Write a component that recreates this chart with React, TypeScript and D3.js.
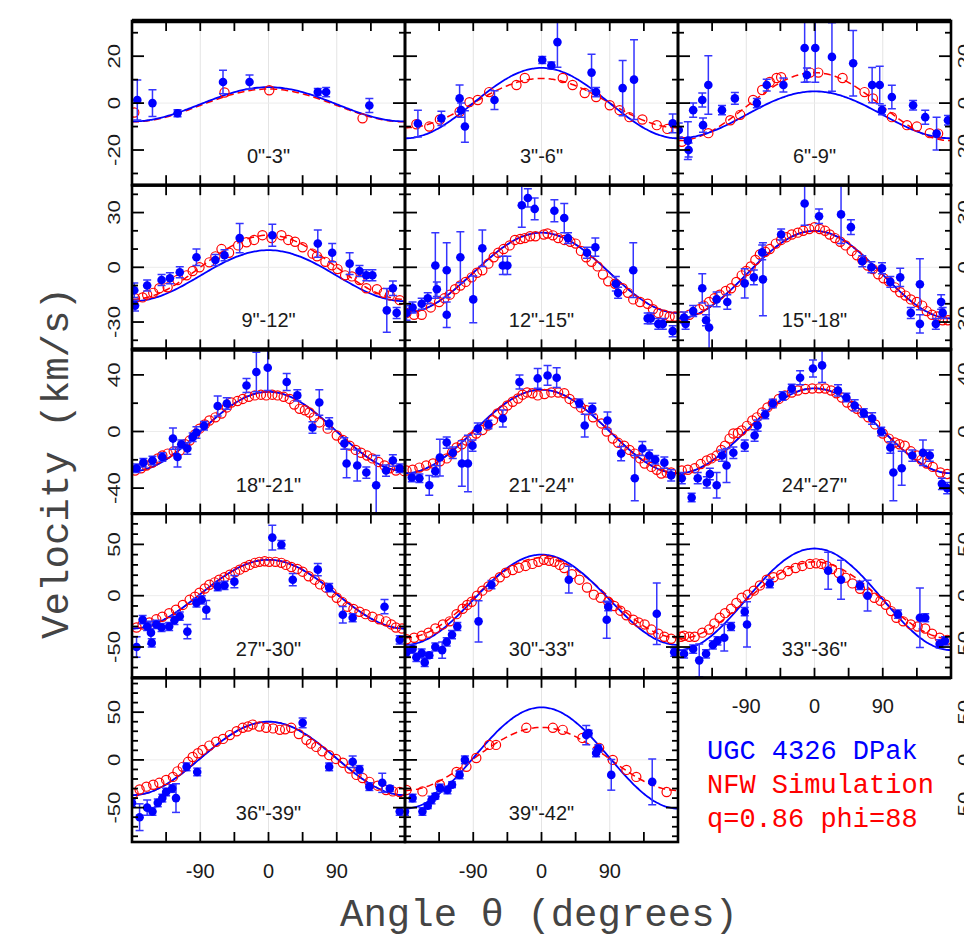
import React from "react";
import * as d3 from "d3";

// ---------- data ----------
const panelLabels = [
  '0"-3"', '3"-6"', '6"-9"', '9"-12"', '12"-15"', '15"-18"', '18"-21"',
  '21"-24"', '24"-27"', '27"-30"', '30"-33"', '33"-36"', '36"-39"', '39"-42"',
];
const rowYMax = [35, 45, 58, 80, 86];
const rowMinorStep = [10, 10, 20, 10, 10];
const rowMajorStep = [20, 30, 40, 50, 50];
const rowTickLabels = [[-20, 0, 20], [-30, 0, 30], [-40, 0, 40], [-50, 0, 50], [-50, 0, 50]];
const xTicks = [-135, -90, -45, 0, 45, 90, 135];
const xTickLabels = [-90, 0, 90];
const gridAngles = [-90, 0, 90];

// model curve parameters (amplitude, systemic offset) per panel, km/s
const blueAmp = [7.3, 15, 10, 14, 22, 24, 28, 29.5, 30, 33.5, 44, 49.5, 38.5, 53];
const blueOff = [-0.5, 0, -5, -4.6, -3, -4, 0, 0, 0.5, 1.5, -4, -3.5, 1.5, 2];
const redAmp = [7, 10.5, 14.5, 17.6, 22, 24, 28, 29.5, 30, 33.5, 39, 37.5, 38.5, 33];
const redOff = [-1, 0, -1.5, 0, -3, -4, 0, 0, 0.5, 1.5, -2, -4.5, 1.5, 1];

// observed points: [angle, velocity, error]
const blue01 = [[-173, 1.3, 8.5], [-153, 0, 5.7], [-120, -4.3, 1.5], [-60, 9, 5], [-25, 9, 3], [65, 4.7, 1.5], [76, 4.7, 2], [133, -1, 3]];
const blue02 = [[-163, -8.7, 5.7], [-132, -6.5, 3], [-108, 2, 5.7], [-106, -3, 3], [-101, -10, 6.7], [-62, 1.3, 4], [1, 18.4, 1.5], [13, 16, 1.5], [21, 26, 10.7], [66, 13, 7.8], [72, 4.7, 2], [107, 6.4, 11.8], [122, 10, 17], [173, -8.6, 4]];
const blue03 = [[-179, -11.5, 3], [-167, -16, 8], [-166, -20, 3], [-160, -3, 3], [-148, 1.3, 3], [-147, -9.4, 3], [-140, 7.7, 12.5], [-122, -3, 2], [-105, 2, 2.5], [-76, 0, 2], [-63, 7.7, 2.5], [-41, 7.7, 3], [-13, 23.5, 14.6], [1, 23.5, 14.6], [23, 19.7, 14.6], [51, 17, 14], [-10, 12, 3], [76, 7.7, 7.5], [86, 7.7, 8], [89, -3, 2], [102, 2.6, 5], [130, -0.9, 2], [146, -6, 3], [161, -13, 7], [176, -7.3, 2]];
const blue04 = [[-177, -12.6, 4], [-176, -21, 3], [-160, -10, 3], [-141, -7, 3], [-130, -6, 3], [-117, -2.7, 3], [-95, 5.5, 4.5], [-70, 4, 3], [-58, 6.6, 3], [-38, 16, 8], [5, 17.6, 6], [65, 13, 7.5], [84, 8, 5], [107, 2, 6], [120, -2, 3], [129, -4.4, 3], [137, -4.4, 3], [156, -23.6, 12], [164, -11.5, 4], [169, -25, 3]];
const blue05 = [[-178, -25, 4], [-170, -22, 3], [-158, -20, 3], [-150, -17, 3], [-140, 1, 18], [-138, -12, 4], [-125, -1.6, 15], [-125, -26, 7], [-107, 5.5, 14], [-90, -17.6, 12.8], [-78, 10.4, 10], [-51, 1, 5], [-45, 1, 5], [-26, 34, 12], [-18, 38, 5], [-9, 32, 6], [17, 31, 6], [30, 27, 8], [35, 16, 3], [60, 8, 3], [71, 11, 5], [98, -9, 4], [101, -14, 3], [121, -1.6, 15], [140, -28, 3], [144, -28, 3], [154, -31, 3], [160, -31, 3], [173, -35, 3]];
const blue06 = [[-172, -27.5, 3], [-170, -31, 3], [-160, -24, 3], [-148, -11.5, 8], [-143, -29, 3], [-139, -33, 12], [-129, -17.6, 4], [-115, -19, 4], [-92, -8.8, 8], [-80, -5.5, 4], [-68, -6.6, 20], [-69, 8.2, 4], [-44, 18, 3], [-13, 35, 12], [6, 28, 4], [35, 29, 16], [48, 22, 4], [63, 3.3, 3], [75, 0, 3], [89, -0.5, 3], [100, -8, 3], [113, -5.5, 5], [139, -9.3, 14], [127, -25, 3], [139, -31, 5], [160, -31, 3], [167, -19, 4], [169, -25, 3]];
const blue07 = [[-174, -26, 3], [-165, -22, 3], [-153, -20.5, 3], [-140, -18, 3], [-126, -5, 7.5], [-120, -18, 7], [-115, -9, 3], [-107, -12, 4], [-100, -4, 3], [-95, -0.7, 4], [-85, 4, 3], [-67, 18, 7], [-55, 19.8, 4], [-29, 32.5, 5], [-16, 42, 14], [-1, 45, 16], [24, 35, 6], [38, 25.5, 4], [67, 20.5, 9], [58, 2.8, 4], [80, 5.7, 4], [100, -8.5, 4], [103, -22.6, 10], [117, -24, 11], [129, -29, 4], [142, -38, 21], [155, -27.6, 4], [164, -20.5, 4], [173, -26, 3]];
const blue08 = [[-171, -32.5, 3], [-161, -33, 3], [-148, -38, 7], [-140, -28, 4], [-134, -18.4, 13], [-125, -7.8, 4], [-117, -15, 4], [-105, -22.6, 16], [-97, -22.6, 20], [-91, -10, 4], [-84, 2, 4], [-70, 5, 3], [-51, 9.2, 6], [-29, 35, 5], [-5, 37.5, 7], [8, 39.6, 7], [20, 38, 7], [50, 20, 3], [57, 4.2, 8], [67, 16, 4], [87, 7.8, 6], [105, -15.6, 5], [123, -33, 16], [133, -12, 5], [142, -17, 4], [150, -20, 3], [162, -22, 4], [171, -31, 4]];
const blue09 = [[-175, -33, 4], [-162, -46.7, 3], [-154, -33, 4], [-142, -36, 4], [-138, -30, 4], [-129, -38, 9], [-122, -17, 4], [-116, -24, 12], [-107, -15, 4], [-92, -10, 4], [-79, -2.8, 4], [-75, 4.2, 4], [-65, 12, 3], [-55, 19.8, 3], [-42, 25, 3], [-30, 30.4, 3], [-19, 38, 5], [-2, 44.5, 6], [10, 46.7, 12], [31, 29, 4], [42, 24, 3], [53, 18.4, 4], [65, 13, 3], [76, 9.2, 4], [88, 0, 3], [100, -11.3, 4], [104, -29, 20], [115, -26, 12], [129, -17, 4], [143, -15, 9], [152, -17, 4], [168, -37, 4], [175, -40, 4]];
const blue10 = [[-174, -50, 10], [-166, -23.4, 4], [-160, -30, 4], [-155, -36, 11], [-154, -46, 4], [-148, -28, 4], [-141, -31, 4], [-131, -30, 4], [-124, -24, 4], [-117, -20, 4], [-107, -35, 7], [-95, -7, 4], [-88, -4, 4], [-82, -13.6, 9], [-67, 8.8, 4], [-58, 10, 4], [-45, 13.7, 6], [5, 56.6, 12], [17, 49.7, 4], [32, 15.6, 6], [65, 25.4, 6], [80, 7.8, 4], [98, -18.5, 8], [111, -21.5, 4], [153, -10.7, 7], [173, -43, 4]];
const blue11 = [[-178, -55, 4], [-170, -52, 4], [-165, -60, 4], [-158, -56, 4], [-154, -65, 4], [-148, -58, 3], [-140, -50, 4], [-131, -53, 8], [-125, -45, 4], [-118, -38, 4], [-111, -30, 4], [-83, -25, 20], [-66, 10.7, 4], [36, 15.6, 13], [86, -23.4, 18], [88, -10.7, 4], [152, -17.6, 30], [175, -55, 4]];
const blue12 = [[-172, -56.6, 4], [-160, -52, 4], [-152, -63, 16], [-143, -56.6, 4], [-134, -48, 4], [-128, -44, 4], [-119, -41, 13], [-110, -30, 4], [-92, -15.6, 4], [-89, -28, 22], [-59, 11.7, 4], [18, 24.4, 18], [35, 15.6, 19], [60, 10, 4], [70, 0, 15], [110, -18, 4], [139, -21.5, 29], [146, -21.5, 4], [165, -47, 4], [172, -44, 4]];
const blue13 = [[-180, -45, 4], [-170, -60, 14], [-160, -50, 8], [-153, -54, 4], [-146, -45, 4], [-140, -40, 4], [-135, -33.6, 4], [-127, -30, 4], [-122, -40, 15], [-108, -7.3, 4], [-94, -12.6, 4], [45, 38.8, 5], [80, -7.3, 4], [111, -2, 6], [120, -10, 4], [133, -28, 4], [150, -24, 10], [160, -30, 3], [173, -54, 4]];
const blue14 = [[-180, -54, 4], [-170, -40, 4], [-157, -54, 4], [-150, -48, 3], [-145, -42, 4], [-140, -38, 3], [-134, -29.4, 4], [-124, -31.5, 4], [-118, -26, 3], [-108, -15.7, 4], [-101, 0, 4], [59, 26, 10], [62, 28, 3], [72, 7.3, 4], [75, 12, 4], [92, -15.7, 16], [146, -23, 24]];

// simulation points: [angle, velocity]
const red01 = [[-177, -4], [-58, 4.5], [1, 5.5], [124, -6.5]];
const red02 = [[-165, -9], [-148, -10], [-134, -7], [-108, -3.7], [-95, 0.4], [-84, 1.3], [-69, 4.7], [-33, 7.7], [-22, 10.7], [28, 10.7], [41, 7.7], [57, 4.3], [72, 2.6], [90, -0.9], [103, -3], [116, -6], [133, -7], [152, -9.4], [166, -11]];
const red03 = [[-175, -16.5], [-140, -12.8], [-111, -7.3], [-98, -5], [-81, 1.3], [-69, 5.6], [-59, 9], [-50, 10.7], [-44, 11], [-6, 13], [5, 13], [37, 10.7], [66, 4.7], [77, 2], [102, -6], [122, -9.4], [135, -10], [152, -12.8], [163, -13]];
const red04 = [[-176, -17], [-166, -16.5], [-160, -15], [-152, -14], [-144, -11.5], [-133, -11], [-120, -7], [-108, -4.4], [-100, -2], [-91, 0], [-78, 2.7], [-70, 6], [-62, 10], [-52, 8], [-40, 12], [-29, 13.7], [-19, 15], [-8, 17.6], [4, 16], [17, 17.6], [26, 15], [35, 14], [45, 11], [58, 7.5], [64, 6], [75, 3], [84, 1.1], [91, -1], [101, -4.4], [110, -5], [120, -7], [129, -11.5], [143, -12], [152, -14], [160, -15.4], [173, -18]];
const red05 = [[-178, -25], [-168, -26], [-158, -26], [-146, -22], [-135, -19], [-128, -17], [-121, -15], [-114, -12], [-107, -10], [-100, -8], [-92, -5.5], [-85, -3], [-78, -1.6], [-70, 2], [-63, 5.5], [-57, 8], [-50, 10], [-42, 12], [-35, 15], [-28, 15.5], [-22, 16], [-15, 17], [-8, 17], [3, 18], [8, 18.5], [15, 17.5], [22, 16], [30, 15], [38, 14], [45, 13], [52, 9], [59, 5.5], [66, 3], [74, 0.5], [81, -4], [88, -7.7], [97, -9], [107, -11.5], [114, -14], [121, -17.6], [130, -19], [140, -20], [147, -23], [154, -25], [162, -26], [169, -27], [176, -27]];
const red06 = [[-176, -27], [-165, -26], [-152, -23], [-146, -21], [-139, -19], [-132, -17], [-125, -15], [-117, -13], [-110, -11.5], [-103, -8], [-96, -4.4], [-90, -2], [-84, 0.5], [-78, 4], [-72, 7], [-65, 8.5], [-59, 10], [-51, 13], [-44, 15], [-37, 16.5], [-30, 18], [-22, 19], [-15, 20], [-7, 21], [0, 22], [7, 21], [14, 20], [20, 18], [27, 16], [34, 14], [41, 12], [49, 9], [56, 6.6], [63, 4], [70, 1], [77, -1], [84, -3.8], [91, -6], [98, -7.7], [106, -11], [113, -13.7], [120, -15.5], [127, -17.6], [135, -19], [142, -21], [148, -24], [155, -26], [162, -27], [169, -29], [176, -29]];
const red07 = [[-176, -27.6], [-168, -26], [-161, -24], [-153, -22], [-146, -19], [-140, -17], [-133, -15.6], [-125, -14], [-117, -13.4], [-110, -9], [-104, -6.4], [-97, -2], [-91, 2], [-84, 5], [-78, 7.8], [-70, 10], [-62, 12.7], [-55, 17], [-49, 20.5], [-41, 21.5], [-34, 23], [-26, 24.5], [-18, 25.5], [-10, 26], [-3, 25.5], [5, 26], [12, 25.5], [20, 24.5], [28, 23], [34, 19], [41, 16], [48, 15], [54, 13.4], [60, 10], [67, 6.4], [78, 2], [90, -2.8], [98, -6], [107, -10], [115, -13], [122, -15], [130, -17], [137, -19], [145, -21.5], [153, -24], [160, -26], [168, -27.6], [179, -28]];
const red08 = [[-178, -27.6], [-170, -27], [-161, -25.5], [-152, -24], [-143, -22.6], [-134, -21], [-125, -19], [-118, -15], [-112, -11.3], [-105, -9], [-99, -6.4], [-92, -4], [-86, -1.4], [-78, 1], [-71, 4.2], [-64, 8], [-58, 12.7], [-51, 15], [-45, 18.4], [-38, 21], [-31, 23.3], [-25, 26], [-19, 27.6], [-12, 27], [-5, 25.5], [4, 26.5], [13, 27.6], [22, 27.5], [30, 27], [37, 23], [44, 20], [52, 17], [59, 15], [68, 10], [79, 5.7], [86, 0], [94, -5], [101, -8], [109, -10], [116, -13], [123, -15.6], [130, -19], [136, -22.6], [145, -25], [152, -27], [158, -29.7], [165, -29], [171, -29]];
const red09 = [[-175, -27.6], [-167, -27], [-158, -26], [-150, -23], [-142, -20.5], [-136, -19], [-129, -17], [-123, -13], [-118, -10], [-112, -5], [-107, -1.4], [-101, -1], [-96, 0.7], [-89, 4], [-82, 7.8], [-76, 10], [-69, 13.4], [-62, 17], [-55, 19.8], [-47, 23], [-39, 25.5], [-30, 27.5], [-22, 29], [-12, 30], [-3, 30.4], [6, 30.5], [14, 30.4], [22, 29], [29, 27], [36, 24], [43, 20.5], [50, 18], [56, 16], [63, 13], [71, 10], [80, 5], [90, -1.4], [98, -5], [106, -7.8], [112, -9], [119, -10], [127, -14], [135, -17], [141, -20], [148, -22.6], [156, -25], [166, -29], [175, -30]];
const red10 = [[-174, -31], [-166, -28], [-157, -26], [-148, -23], [-140, -20.5], [-131, -17], [-122, -13.7], [-113, -9], [-104, -4], [-97, -1], [-91, 2.9], [-84, 7], [-78, 10.7], [-71, 13], [-65, 15.6], [-58, 18], [-51, 20.5], [-44, 23], [-38, 25.4], [-31, 28], [-25, 30], [-18, 32], [-12, 33], [-5, 33.5], [1, 33], [9, 33], [17, 32], [23, 30], [30, 28], [38, 26], [45, 23.4], [53, 19], [61, 15.6], [68, 11], [76, 7.8], [83, 3], [90, -2], [97, -6], [104, -10.7], [112, -13], [120, -15.6], [128, -18], [137, -20.5], [146, -23], [155, -25], [162, -28], [168, -31], [176, -32]];
const red11 = [[-178, -42.4], [-168, -41], [-158, -39], [-149, -36], [-140, -32], [-130, -28], [-121, -25], [-112, -18], [-104, -12.7], [-98, -9], [-92, -5.9], [-85, 0], [-78, 4.9], [-70, 9], [-63, 13.7], [-55, 18], [-47, 22.4], [-38, 25], [-30, 27.3], [-21, 29], [-12, 31], [-4, 33], [3, 35], [10, 34], [17, 33], [24, 30], [30, 27], [40, 21], [50, 15.6], [60, 8], [69, 1], [78, -2], [88, -5.9], [96, -10], [104, -14.6], [112, -19], [121, -23.4], [128, -26], [136, -28], [145, -33], [154, -37], [162, -40], [171, -42]];
const red12 = [[-176, -40], [-172, -39], [-165, -40], [-158, -40], [-148, -36], [-139, -33], [-132, -27], [-125, -21.5], [-118, -17], [-110, -12.7], [-103, -7], [-96, -2], [-88, 1], [-80, 4.9], [-72, 10], [-63, 15.6], [-54, 18], [-44, 20.5], [-35, 24], [-25, 27], [-16, 29], [-6, 31], [2, 31.5], [9, 31], [16, 29], [23, 26], [32, 22], [41, 17.6], [50, 12], [60, 6.8], [70, 2], [79, -2], [87, -5], [94, -8.8], [101, -15], [108, -21.5], [117, -25], [127, -28], [136, -30], [146, -32], [155, -37], [165, -41], [175, -43]];
const red13 = [[-178, -35], [-170, -31], [-161, -28], [-152, -26], [-144, -24], [-135, -21], [-126, -17.8], [-120, -12], [-113, -7.3], [-106, -2], [-100, 3], [-93, 7], [-87, 10.5], [-78, 15], [-69, 19], [-60, 22], [-51, 26], [-42, 30], [-34, 33.6], [-27, 35], [-21, 37], [-12, 35], [-3, 33.6], [6, 33], [15, 31.5], [22, 32], [30, 33.6], [40, 27], [50, 21], [56, 17], [63, 13.6], [71, 9], [80, 5], [89, 1], [98, -3], [107, -9], [116, -15.7], [124, -19], [133, -23], [144, -27], [155, -31.5], [164, -33], [173, -33.6]];
const red14 = [[-178, -31.5], [-157, -33], [-134, -26], [-112, -12.6], [-99, -7.3], [-86, 2], [-69, 15.7], [-60, 15.7], [-20, 33.6], [15, 33.6], [28, 31.5], [54, 23], [76, 12.6], [94, 0], [112, -10.5], [125, -17.8], [165, -33.6]];

const blueSets = [blue01, blue02, blue03, blue04, blue05, blue06, blue07, blue08, blue09, blue10, blue11, blue12, blue13, blue14];
const redSets = [red01, red02, red03, red04, red05, red06, red07, red08, red09, red10, red11, red12, red13, red14];

const legendLines = [
  { text: "UGC 4326 DPak", color: "#0000ff" },
  { text: "NFW Simulation", color: "#ff0000" },
  { text: "q=0.86 phi=88", color: "#ff0000" },
];

// ---------- geometry ----------
const W = 964;
const H = 945;
const X0 = 132;
const COLW = 273;
const Y0 = 21;
const ROWH = 164.2;
const BLUE = "#0000ff";
const RED = "#ff0000";
const SANS = "'Liberation Sans', Arial, sans-serif";
const MONO = "'Liberation Mono', 'DejaVu Sans Mono', monospace";

function modelCurve(amp: number, off: number) {
  const angles = d3.range(-180, 181, 3);
  return angles.map((t) => [t, off + amp * Math.cos((t * Math.PI) / 180)] as [number, number]);
}

function Panel({ i }: { i: number }) {
  const row = Math.floor(i / 3);
  const col = i % 3;
  const x0 = X0 + col * COLW;
  const y0 = Y0 + row * ROWH;
  const xs = d3.scaleLinear().domain([-180, 180]).range([x0, x0 + COLW]);
  const m = rowYMax[row];
  const ys = d3.scaleLinear().domain([-m, m]).range([y0 + ROWH, y0]);
  const line = d3.line<[number, number]>().x((d) => xs(d[0])).y((d) => ys(d[1])).curve(d3.curveMonotoneX);
  const clipId = `clip${i}`;
  const minorTicks = d3.range(-Math.floor(m / rowMinorStep[row]) * rowMinorStep[row], m + 0.01, rowMinorStep[row]);
  const isMajor = (v: number) => Math.abs(v % rowMajorStep[row]) < 1e-6;
  return (
    <g>
      <defs>
        <clipPath id={clipId}>
          <rect x={x0} y={y0} width={COLW} height={ROWH} />
        </clipPath>
      </defs>
      <g clipPath={`url(#${clipId})`}>
        {gridAngles.map((a) => (
          <line key={"g" + a} x1={xs(a)} x2={xs(a)} y1={y0} y2={y0 + ROWH} stroke="#e4e4e4" strokeWidth={1} />
        ))}
        <line x1={x0} x2={x0 + COLW} y1={ys(0)} y2={ys(0)} stroke="#ececec" strokeWidth={1} />
        <path d={line(modelCurve(redAmp[i], redOff[i])) || ""} fill="none" stroke={RED} strokeWidth={1.5} strokeDasharray="7,4" />
        <path d={line(modelCurve(blueAmp[i], blueOff[i])) || ""} fill="none" stroke={BLUE} strokeWidth={1.8} />
        {redSets[i].map((p, k) => (
          <circle key={"r" + k} cx={xs(p[0])} cy={ys(p[1])} r={4.6} fill="none" stroke={RED} strokeWidth={1.2} />
        ))}
        {blueSets[i].map((p, k) => {
          const cx = xs(p[0]);
          const yt = ys(p[1] + p[2]);
          const yb = ys(p[1] - p[2]);
          return (
            <g key={"b" + k} stroke="#3535ff" strokeWidth={1.5}>
              <line x1={cx} x2={cx} y1={yt} y2={yb} />
              <line x1={cx - 4} x2={cx + 4} y1={yt} y2={yt} />
              <line x1={cx - 4} x2={cx + 4} y1={yb} y2={yb} />
            </g>
          );
        })}
        {blueSets[i].map((p, k) => (
          <circle key={"bp" + k} cx={xs(p[0])} cy={ys(p[1])} r={4.3} fill={BLUE} />
        ))}
      </g>
      {xTicks.map((t) => (
        <g key={"xt" + t} stroke="#000" strokeWidth={1.8}>
          <line x1={xs(t)} x2={xs(t)} y1={y0} y2={y0 + 10} />
          <line x1={xs(t)} x2={xs(t)} y1={y0 + ROWH} y2={y0 + ROWH - 10} />
        </g>
      ))}
      {minorTicks.map((v) => {
        const len = isMajor(v) ? 12 : 6;
        return (
          <g key={"yt" + v} stroke="#000" strokeWidth={1.8}>
            <line x1={x0} x2={x0 + len} y1={ys(v)} y2={ys(v)} />
            <line x1={x0 + COLW} x2={x0 + COLW - len} y1={ys(v)} y2={ys(v)} />
          </g>
        );
      })}
      <rect x={x0} y={y0} width={COLW} height={ROWH} fill="none" stroke="#000" strokeWidth={2.6} />
      <text x={x0 + COLW / 2} y={y0 + ROWH - 22} textAnchor="middle" fontFamily={SANS} fontSize={20} fill="#1a1a1a">
        {panelLabels[i]}
      </text>
    </g>
  );
}

export default function App() {
  const panels = d3.range(panelLabels.length);
  const colScale = (c: number) => d3.scaleLinear().domain([-180, 180]).range([X0 + c * COLW, X0 + (c + 1) * COLW]);
  return (
    <svg width={W} height={H} style={{ position: "absolute", left: 0, top: 0, background: "#fff" }}>
      <rect x={0} y={0} width={W} height={H} fill="#fff" />
      {panels.map((i) => (
        <Panel key={i} i={i} />
      ))}
      {d3.range(0, 5).map((r) => (
        <line key={"hb" + r} x1={X0} x2={X0 + 3 * COLW} y1={Y0 + r * ROWH} y2={Y0 + r * ROWH} stroke="#000" strokeWidth={r === 0 || r === 2 ? 4.5 : 3.2} />
      ))}
      {rowTickLabels.map((labs, r) => {
        const ys = d3.scaleLinear().domain([-rowYMax[r], rowYMax[r]]).range([Y0 + (r + 1) * ROWH, Y0 + r * ROWH]);
        return labs.map((v) => (
          <g key={"yl" + r + "_" + v}>
            <text transform={`translate(120,${ys(v)}) rotate(-90) scale(1.3,1)`} textAnchor="middle" fontFamily={SANS} fontSize={17} fill="#1a1a1a">
              {v}
            </text>
            <text transform={`translate(970,${ys(v)}) rotate(-90) scale(1.3,1)`} textAnchor="middle" fontFamily={SANS} fontSize={17} fill="#1a1a1a">
              {v}
            </text>
          </g>
        ));
      })}
      {[0, 1].map((c) =>
        xTickLabels.map((t) => (
          <text key={"xl" + c + t} x={colScale(c)(t)} y={878} textAnchor="middle" fontFamily={SANS} fontSize={20} fill="#1a1a1a">
            {t}
          </text>
        ))
      )}
      {xTickLabels.map((t) => (
        <text key={"xl2" + t} x={colScale(2)(t)} y={713} textAnchor="middle" fontFamily={SANS} fontSize={20} fill="#1a1a1a">
          {t}
        </text>
      ))}
      <text transform="translate(68,463) rotate(-90)" textAnchor="middle" fontFamily={MONO} fontSize={38} fill="#444" textLength={352} lengthAdjust="spacingAndGlyphs">
        Velocity (km/s)
      </text>
      <text x={539} y={926} textAnchor="middle" fontFamily={MONO} fontSize={38} fill="#444" textLength={398} lengthAdjust="spacingAndGlyphs">
        Angle θ (degrees)
      </text>
      {legendLines.map((l, k) => (
        <text key={"lg" + k} x={707} y={759 + k * 34} fontFamily={MONO} fontSize={27} fill={l.color}>
          {l.text}
        </text>
      ))}
    </svg>
  );
}
